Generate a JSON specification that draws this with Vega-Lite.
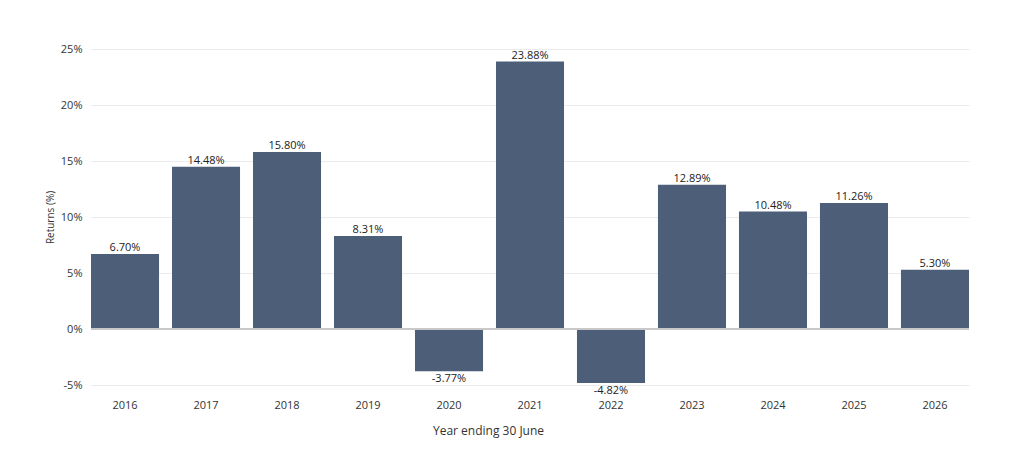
{
  "$schema": "https://vega.github.io/schema/vega-lite/v6.json",
  "autosize": {"type": "none"},
  "padding": {"left": 91, "top": 49, "right": 44, "bottom": 65},
  "width": 878,
  "height": 336,
  "background": "white",
  "config": {
    "font": "Open Sans",
    "view": {"stroke": null},
    "locale": {
      "number": {"decimal": ".", "thousands": ",", "grouping": [3], "currency": ["$", ""], "minus": "-"}
    },
    "axis": {"labelFont": "Open Sans", "titleFont": "Open Sans", "labelColor": "#333", "titleColor": "#333", "titleFontWeight": "normal"}
  },
  "data": {
    "values": [
      {"year": "2016", "r": 0.0670},
      {"year": "2017", "r": 0.1448},
      {"year": "2018", "r": 0.1580},
      {"year": "2019", "r": 0.0831},
      {"year": "2020", "r": -0.0377},
      {"year": "2021", "r": 0.2388},
      {"year": "2022", "r": -0.0482},
      {"year": "2023", "r": 0.1289},
      {"year": "2024", "r": 0.1048},
      {"year": "2025", "r": 0.1126},
      {"year": "2026", "r": 0.0530}
    ]
  },
  "encoding": {
    "x": {
      "field": "year",
      "type": "ordinal",
      "title": "Year ending 30 June",
      "scale": {"paddingInner": 0.16, "paddingOuter": 0},
      "axis": {"labelAngle": 0, "domain": false, "ticks": false, "labelPadding": 14, "labelFontSize": 11, "titleFontSize": 12, "titlePadding": 15, "titleX": 397}
    },
    "y": {
      "field": "r",
      "type": "quantitative",
      "title": "Returns (%)",
      "scale": {"domain": [-0.05, 0.25], "nice": false},
      "axis": {"format": ".0%", "values": [-0.05, 0, 0.05, 0.1, 0.15, 0.2, 0.25], "domain": false, "ticks": false, "labelPadding": 9, "labelFontSize": 11, "titleFontSize": 10, "titlePadding": 5, "gridColor": "#ebebeb"}
    }
  },
  "layer": [
    {"mark": {"type": "bar", "color": "#4c5e78"}},
    {
      "mark": {"type": "rule", "color": "#c8c8c8", "strokeWidth": 1},
      "encoding": {"y": {"datum": 0}, "x": {"value": 0}, "x2": {"value": 878}}
    },
    {
      "transform": [{"filter": "datum.r >= 0"}],
      "mark": {"type": "text", "baseline": "bottom", "dy": -1, "fontSize": 11, "color": "#222"},
      "encoding": {"text": {"field": "r", "format": ".2%"}}
    },
    {
      "transform": [{"filter": "datum.r < 0"}],
      "mark": {"type": "text", "baseline": "top", "dy": 2, "fontSize": 11, "color": "#222"},
      "encoding": {"text": {"field": "r", "format": ".2%"}}
    }
  ]
}
